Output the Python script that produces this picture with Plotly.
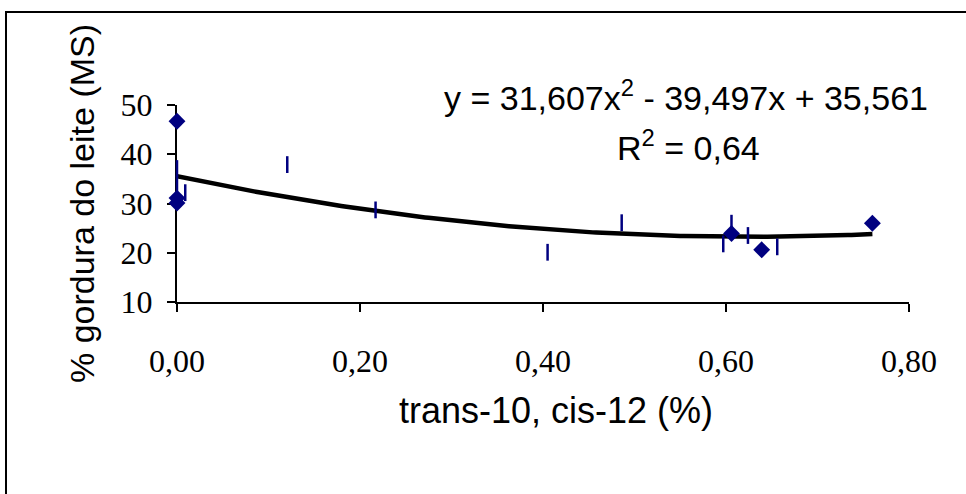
import numpy as np
import plotly.graph_objects as go

# Series 1: diamonds
diamond_x = [0.000, 0.000, 0.000, 0.606, 0.639, 0.760]
diamond_y = [46.7, 31.1, 30.1, 23.9, 20.6, 26.0]

# Series 2: vertical-dash markers
dash_x = [0.000, 0.000, 0.009, 0.1205, 0.217, 0.405, 0.486, 0.597, 0.606, 0.624, 0.656]
dash_y = [37.1, 34.0, 32.2, 37.9, 28.7, 20.1, 26.1, 21.8, 26.0, 23.5, 21.2]

# Polynomial trendline shown on the chart (order 2)
trend_coef = [31.607, -39.497, 35.561]
trend_range = [0.0, 0.76]
r2_text = "0,64"

x_ticks = [0.0, 0.2, 0.4, 0.6, 0.8]
y_ticks = [10, 20, 30, 40, 50]
x_title = "trans-10, cis-12 (%)"
y_title = "% gordura do leite (MS)"

navy = "#000080"
serif = "Times New Roman, Liberation Serif, serif"
sans = "Arial, Liberation Sans, sans-serif"

tx = np.linspace(trend_range[0], trend_range[1], 200)
ty = np.polyval(trend_coef, tx)

fig = go.Figure()
fig.add_trace(go.Scatter(x=tx, y=ty, mode="lines",
                         line=dict(color="black", width=4.5),
                         cliponaxis=False, showlegend=False, hoverinfo="skip"))
fig.add_trace(go.Scatter(x=dash_x, y=dash_y, mode="markers",
                         marker=dict(symbol="line-ns", size=12,
                                     line=dict(color=navy, width=2.5)),
                         cliponaxis=False, showlegend=False))
fig.add_trace(go.Scatter(x=diamond_x, y=diamond_y, mode="markers",
                         marker=dict(symbol="diamond", size=13, color=navy,
                                     line=dict(width=0)),
                         cliponaxis=False, showlegend=False))

eq = (f"y = {trend_coef[0]:.3f}x<sup>2</sup> - {abs(trend_coef[1]):.3f}x + "
      f"{trend_coef[2]:.3f}").replace(".", ",")
fig.add_annotation(text=eq, xref="paper", yref="paper",
                   x=(686 - 177) / 732, y=(302 - 95) / 197,
                   showarrow=False, xanchor="center", yanchor="middle",
                   font=dict(family=sans, size=34, color="black"))
fig.add_annotation(text=f"R<sup>2</sup> = {r2_text}", xref="paper", yref="paper",
                   x=(688 - 177) / 732, y=(302 - 145) / 197,
                   showarrow=False, xanchor="center", yanchor="middle",
                   font=dict(family=sans, size=34, color="black"))
# x-axis title (offset right of centre as in the reference)
fig.add_annotation(text=x_title, xref="paper", yref="paper",
                   x=(556 - 177) / 732, y=(302 - 410) / 197,
                   showarrow=False, xanchor="center", yanchor="middle",
                   font=dict(family=sans, size=36, color="black"))

# outer chart frame
fig.add_shape(type="rect", xref="paper", yref="paper",
              x0=(6 - 177) / 732, x1=2.0, y0=-3.0, y1=(302 - 12) / 197,
              line=dict(color="black", width=2), fillcolor="rgba(0,0,0,0)",
              layer="below")

fig.update_layout(
    width=966, height=494,
    margin=dict(l=177, r=57, t=105, b=192),
    paper_bgcolor="white", plot_bgcolor="white",
    separators=",.",
    xaxis=dict(range=[0, 0.8], tickvals=x_ticks, tickformat=".2f",
               showgrid=False, zeroline=False, showline=True,
               linecolor="black", linewidth=2, ticks="outside", ticklen=8,
               tickwidth=2, tickcolor="black", layer="below traces",
               tickfont=dict(family=serif, size=32, color="black"),
               ticklabelstandoff=22),
    yaxis=dict(range=[10, 50], tickvals=y_ticks,
               showgrid=False, zeroline=False, showline=True,
               linecolor="black", linewidth=2, ticks="outside", ticklen=8,
               tickwidth=2, tickcolor="black", layer="below traces",
               tickfont=dict(family=serif, size=32, color="black"),
               ticklabelstandoff=8,
               title=dict(text=y_title, standoff=16,
                          font=dict(family=sans, size=34, color="black"))),
)

fig.write_html("out.html")
